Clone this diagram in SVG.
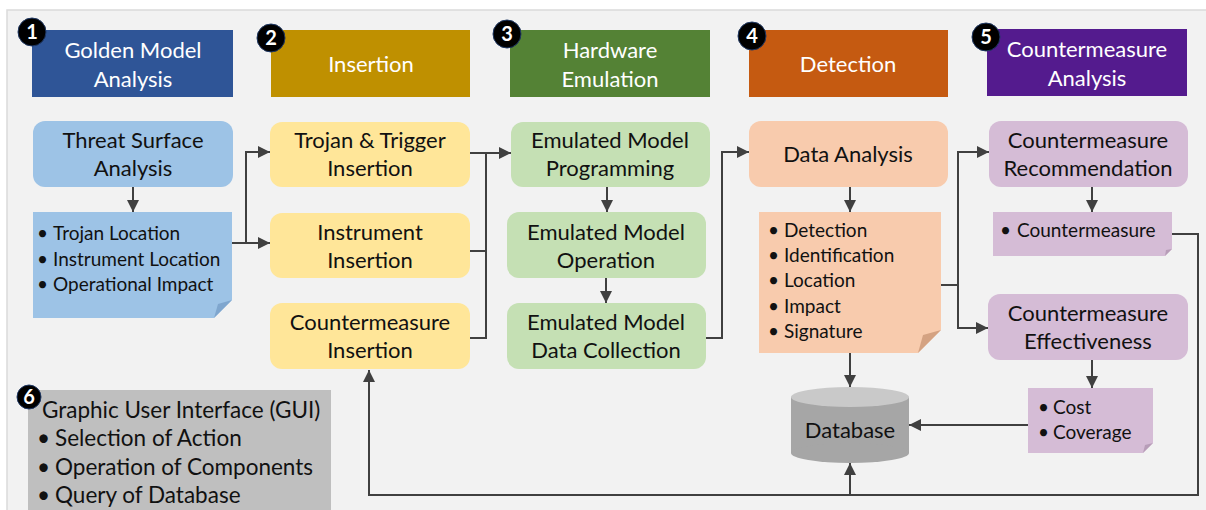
<svg xmlns="http://www.w3.org/2000/svg" width="1206" height="510" viewBox="0 0 1206 510">
  <defs>
    <marker id="arrow" markerUnits="userSpaceOnUse" markerWidth="12" markerHeight="12" viewBox="0 0 12 12" refX="12" refY="6" orient="auto">
      <path d="M0,0 L12,6 L0,12 Z" fill="#404040"/>
    </marker>
    <style>
      text { font-family: Lato, "Liberation Sans", sans-serif; }
      .hdr { fill: #ffffff; font-size: 22px; text-anchor: middle; }
      .lbl { fill: #111111; font-size: 22px; text-anchor: middle; }
      .lst { fill: #111111; font-size: 19px; }
      .gui { fill: #111111; font-size: 22.5px; }
      .badge circle { fill: #000000; stroke: #1F3864; stroke-width: 1; }
      .badge text { fill: #ffffff; font-size: 20px; font-weight: bold; text-anchor: middle; }
      .wire { fill: none; stroke: #404040; stroke-width: 2; }
      .blue { fill: #9DC3E6; }
      .yellow { fill: #FFE699; }
      .green { fill: #C5E0B4; }
      .orange { fill: #F8CBAD; }
      .purple { fill: #D5BCD6; }
    </style>
  </defs>

  <!-- canvas -->
  <rect x="0" y="0" width="1206" height="510" fill="#ffffff"/>
  <rect x="7" y="10" width="1200" height="502" fill="#F2F2F2" stroke="#DADADA" stroke-width="1.5"/>

  <!-- stage headers -->
  <g id="hdr-golden">
    <rect x="32" y="30" width="201" height="67" fill="#2F5597"/>
    <text class="hdr" x="133" y="58">Golden Model</text>
    <text class="hdr" x="133" y="87">Analysis</text>
  </g>
  <g id="hdr-insertion">
    <rect x="271" y="30" width="199" height="67" fill="#BF9000"/>
    <text class="hdr" x="371" y="72">Insertion</text>
  </g>
  <g id="hdr-emulation">
    <rect x="510" y="30" width="200" height="67" fill="#548235"/>
    <text class="hdr" x="610" y="58">Hardware</text>
    <text class="hdr" x="610" y="87">Emulation</text>
  </g>
  <g id="hdr-detection">
    <rect x="749" y="30" width="199" height="67" fill="#C55A11"/>
    <text class="hdr" x="848" y="72">Detection</text>
  </g>
  <g id="hdr-countermeasure">
    <rect x="987" y="29" width="200" height="67" fill="#541B8E"/>
    <text class="hdr" x="1087" y="57">Countermeasure</text>
    <text class="hdr" x="1087" y="86">Analysis</text>
  </g>

  <!-- stage 1 -->
  <g id="threat-surface">
    <rect class="blue" x="33" y="121" width="200" height="66" rx="12"/>
    <text class="lbl" x="133" y="148">Threat Surface</text>
    <text class="lbl" x="133" y="176">Analysis</text>
  </g>
  <g id="location-note">
    <path class="blue" d="M33,212 H232 V300 L214,318 H33 Z"/>
    <path d="M232,300 L214,318 L218,304 Z" fill="#7FA6CE"/>
    <text class="lst"><tspan x="37" y="240">•</tspan><tspan x="53" y="240">Trojan Location</tspan></text>
    <text class="lst"><tspan x="37" y="266">•</tspan><tspan x="53" y="266">Instrument Location</tspan></text>
    <text class="lst"><tspan x="37" y="291">•</tspan><tspan x="53" y="291">Operational Impact</tspan></text>
  </g>

  <!-- stage 2 -->
  <g id="trojan-insertion">
    <rect class="yellow" x="270" y="122" width="200" height="65" rx="12"/>
    <text class="lbl" x="370" y="148">Trojan &amp; Trigger</text>
    <text class="lbl" x="370" y="176">Insertion</text>
  </g>
  <g id="instrument-insertion">
    <rect class="yellow" x="270" y="213" width="200" height="65" rx="12"/>
    <text class="lbl" x="370" y="240">Instrument</text>
    <text class="lbl" x="370" y="268">Insertion</text>
  </g>
  <g id="countermeasure-insertion">
    <rect class="yellow" x="270" y="303" width="200" height="66" rx="12"/>
    <text class="lbl" x="370" y="330">Countermeasure</text>
    <text class="lbl" x="370" y="358">Insertion</text>
  </g>

  <!-- stage 3 -->
  <g id="emu-programming">
    <rect class="green" x="511" y="122" width="199" height="65" rx="12"/>
    <text class="lbl" x="610" y="148">Emulated Model</text>
    <text class="lbl" x="610" y="176">Programming</text>
  </g>
  <g id="emu-operation">
    <rect class="green" x="507" y="212" width="199" height="66" rx="12"/>
    <text class="lbl" x="606" y="240">Emulated Model</text>
    <text class="lbl" x="606" y="268">Operation</text>
  </g>
  <g id="emu-collection">
    <rect class="green" x="507" y="303" width="199" height="66" rx="12"/>
    <text class="lbl" x="606" y="330">Emulated Model</text>
    <text class="lbl" x="606" y="358">Data Collection</text>
  </g>

  <!-- stage 4 -->
  <g id="data-analysis">
    <rect class="orange" x="749" y="121" width="199" height="66" rx="12"/>
    <text class="lbl" x="848" y="162">Data Analysis</text>
  </g>
  <g id="detection-note">
    <path class="orange" d="M759,212 H941 V330 L918,353 H759 Z"/>
    <path d="M941,330 L918,353 L923,335 Z" fill="#D4A282"/>
    <text class="lst"><tspan x="768" y="237">•</tspan><tspan x="784" y="237">Detection</tspan></text>
    <text class="lst"><tspan x="768" y="262">•</tspan><tspan x="784" y="262">Identification</tspan></text>
    <text class="lst"><tspan x="768" y="287">•</tspan><tspan x="784" y="287">Location</tspan></text>
    <text class="lst"><tspan x="768" y="313">•</tspan><tspan x="784" y="313">Impact</tspan></text>
    <text class="lst"><tspan x="768" y="338">•</tspan><tspan x="784" y="338">Signature</tspan></text>
  </g>
  <g id="database">
    <rect x="791" y="397" width="118" height="56" fill="#A6A6A6"/>
    <ellipse cx="850" cy="453" rx="59" ry="10" fill="#A6A6A6"/>
    <ellipse cx="850" cy="397" rx="59" ry="10" fill="#C9C9C9"/>
    <text class="lbl" x="850" y="438" font-size="21">Database</text>
  </g>

  <!-- stage 5 -->
  <g id="cm-recommendation">
    <rect class="purple" x="989" y="121" width="199" height="66" rx="12"/>
    <text class="lbl" x="1088" y="148">Countermeasure</text>
    <text class="lbl" x="1088" y="176">Recommendation</text>
  </g>
  <g id="cm-note">
    <path class="purple" d="M993,212 H1172 V249 L1165,256 H993 Z"/>
    <path d="M1172,249 L1165,256 L1166,250 Z" fill="#B79DB8"/>
    <text class="lst"><tspan x="1000" y="237">•</tspan><tspan x="1017" y="237">Countermeasure</tspan></text>
  </g>
  <g id="cm-effectiveness">
    <rect class="purple" x="988" y="294" width="200" height="66" rx="12"/>
    <text class="lbl" x="1088" y="321">Countermeasure</text>
    <text class="lbl" x="1088" y="349">Effectiveness</text>
  </g>
  <g id="cost-note">
    <path class="purple" d="M1028,388 H1153 V443 L1143,453 H1028 Z"/>
    <path d="M1153,443 L1143,453 L1145,445 Z" fill="#B79DB8"/>
    <text class="lst"><tspan x="1038" y="414">•</tspan><tspan x="1053" y="414">Cost</tspan></text>
    <text class="lst"><tspan x="1038" y="439">•</tspan><tspan x="1053" y="439">Coverage</tspan></text>
  </g>

  <!-- stage 6 -->
  <g id="gui">
    <rect x="28" y="390" width="303" height="125" fill="#BFBFBF"/>
    <text class="gui" x="42" y="418">Graphic User Interface (GUI)</text>
    <text class="gui"><tspan x="37" y="446">•</tspan><tspan x="55" y="446">Selection of Action</tspan></text>
    <text class="gui"><tspan x="37" y="475">•</tspan><tspan x="55" y="475">Operation of Components</tspan></text>
    <text class="gui"><tspan x="37" y="503">•</tspan><tspan x="55" y="503">Query of Database</tspan></text>
  </g>

  <!-- numbered badges -->
  <g id="badges" class="badge">
    <circle cx="32" cy="32" r="14"/><text x="32" y="39">1</text>
    <circle cx="271" cy="38" r="14"/><text x="271" y="45">2</text>
    <circle cx="507" cy="34" r="14"/><text x="507" y="41">3</text>
    <circle cx="752" cy="36" r="14"/><text x="752" y="43">4</text>
    <circle cx="986" cy="37" r="14"/><text x="986" y="44">5</text>
    <circle cx="29" cy="397" r="12"/><text x="29" y="404" font-size="18">6</text>
  </g>

  <!-- connectors -->
  <g id="connectors" class="wire">
    <path d="M133,187 V212" marker-end="url(#arrow)"/>
    <path d="M232,243 H270" marker-end="url(#arrow)"/>
    <path d="M246,243 V152 H270" marker-end="url(#arrow)"/>
    <path d="M470,153 H511" marker-end="url(#arrow)"/>
    <path d="M470,251 H486 V153"/>
    <path d="M470,338 H486 V250"/>
    <path d="M607,187 V212" marker-end="url(#arrow)"/>
    <path d="M606,278 V303" marker-end="url(#arrow)"/>
    <path d="M706,338 H722 V152 H749" marker-end="url(#arrow)"/>
    <path d="M850,187 V212" marker-end="url(#arrow)"/>
    <path d="M941,285 H958 V152 H989" marker-end="url(#arrow)"/>
    <path d="M958,285 V328 H988" marker-end="url(#arrow)"/>
    <path d="M850,353 V387" marker-end="url(#arrow)"/>
    <path d="M1092,187 V212" marker-end="url(#arrow)"/>
    <path d="M1092,360 V388" marker-end="url(#arrow)"/>
    <path d="M1028,425 H909" marker-end="url(#arrow)"/>
    <path d="M1172,234 H1198 V495 H369 V370" marker-end="url(#arrow)"/>
    <path d="M850,495 V463" marker-end="url(#arrow)"/>
  </g>
</svg>
